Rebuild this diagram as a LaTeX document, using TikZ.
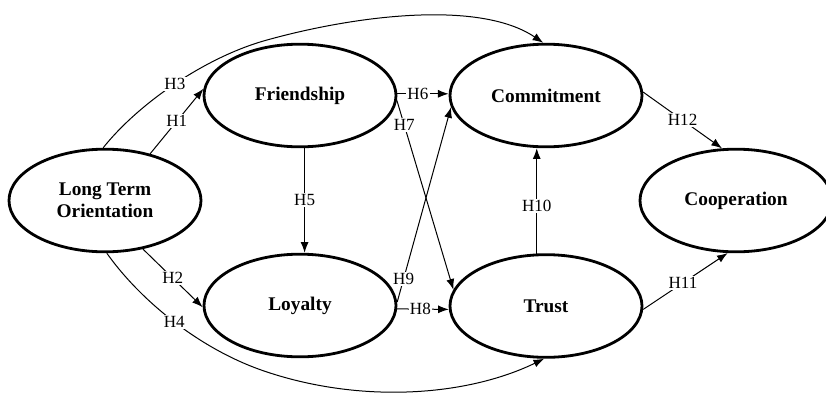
\documentclass[tikz,border=0pt]{standalone}
\usepackage{fontspec}
\setmainfont{Liberation Serif}
\usetikzlibrary{shapes.geometric,arrows.meta}
\begin{document}
\begin{tikzpicture}[x=0.75pt,y=-0.75pt,
  construct/.style={ellipse,draw,line width=2.1pt,minimum width=144pt,minimum height=77pt,inner sep=0pt,align=center,font=\fontsize{14.5}{16.5}\selectfont\bfseries},
  arr/.style={line width=0.75pt,-{Latex[length=8pt,width=6pt]}},
  hyp/.style={fill=white,inner sep=1pt,font=\fontsize{12.8}{14}\selectfont}]
\useasboundingbox (0,0) rectangle (826,393);
\node[construct] (lto) at (105,200.5) {Long Term\\Orientation};
\node[construct] (fr) at (300,95.5) {Friendship};
\node[construct] (co) at (546,95.5) {Commitment};
\node[construct] (lo) at (300,305.5) {Loyalty};
\node[construct] (tr) at (546,306) {Trust};
\node[construct] (cp) at (736,200.5) {Cooperation};
% H1, H2
\draw[arr] (lto.46) -- node[hyp]{H1} (fr.176);
\draw[arr] (lto.-52) -- node[hyp]{H2} (lo.181);
% H3 curve
\draw[arr] (lto.92) .. controls (138,104) and (205,57) .. (267,40) node[hyp,pos=0.5]{H3}
  .. controls (357,15) and (480,0) .. (co.93);
% H4 curve
\draw[arr] (lto.-88) .. controls (140,300) and (200,350) .. (267,372) node[hyp,pos=0.5]{H4}
  .. controls (360,403) and (465,397) .. (tr.-92);
% H5
\draw[arr] (fr.-85) -- node[hyp]{H5} (fr.-85 |- lo.north);
% H6, H8
\draw[arr] (fr.1) -- node[hyp,pos=0.4]{H6} (co.179);
\draw[arr] (lo.-2) -- node[hyp,pos=0.45]{H8} (tr.-178);
% H7, H9
\draw[arr] (fr.-3) -- node[hyp,pos=0.13]{H7} (tr.170);
\draw[arr] (lo.2) -- node[hyp,pos=0.12]{H9} (co.187);
% H10
\draw[arr] (tr.100) -- node[hyp,pos=0.45]{H10} (tr.100 |- co.south);
% H11, H12
\draw[arr] (tr.-2) -- node[hyp,pos=0.47]{H11} (cp.-99);
\draw[arr] (co.2) -- node[hyp,pos=0.5]{H12} (cp.105);
\end{tikzpicture}
\end{document}
